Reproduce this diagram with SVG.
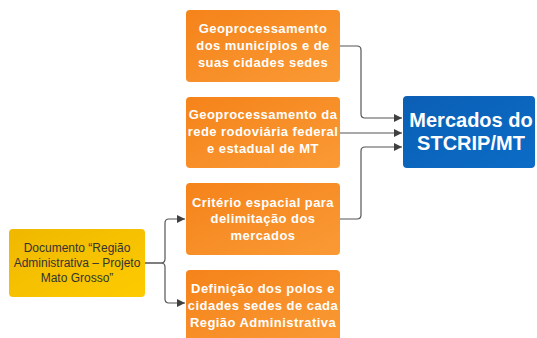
<svg xmlns="http://www.w3.org/2000/svg" width="537" height="338" viewBox="0 0 537 338">
<defs>
<linearGradient id="og" x1="0" y1="0" x2="1" y2="1"><stop offset="0" stop-color="#F5831A"/><stop offset="1" stop-color="#FA9A35"/></linearGradient>
<linearGradient id="bg" x1="0" y1="0" x2="1" y2="1"><stop offset="0" stop-color="#0B5FB5"/><stop offset="1" stop-color="#0B6CC6"/></linearGradient>
<linearGradient id="yg" x1="0" y1="0" x2="1" y2="1"><stop offset="0" stop-color="#EFB800"/><stop offset="1" stop-color="#FDCB00"/></linearGradient>
<marker id="ah" viewBox="0 0 10 10" refX="10" refY="5" markerWidth="8" markerHeight="8" markerUnits="userSpaceOnUse" orient="auto"><path d="M0,0 L10,5 L0,10 z" fill="#404040"/></marker>
<style>
.o{fill:url(#og)}
.ot{font-family:"Liberation Sans",Arial,sans-serif;font-weight:bold;font-size:13px;letter-spacing:0.45px;fill:#fff;text-anchor:middle}
.bt{font-family:"Liberation Sans",Arial,sans-serif;font-weight:bold;font-size:20px;fill:#fff;text-anchor:middle}
.yt{font-family:"Liberation Sans",Arial,sans-serif;font-size:12px;fill:#333;text-anchor:middle}
.c{fill:none;stroke:#555;stroke-width:1.2;marker-end:url(#ah)}
</style>
</defs>
<rect width="537" height="338" fill="#fff"/>
<g id="connectors">
<path class="c" d="M145,263 H161 Q165,263 165,259 V223 Q165,219 169,219 H185"/>
<path class="c" d="M145,263 H161 Q165,263 165,267 V299 Q165,303 169,303 H185"/>
<path class="c" d="M340,46 H357 Q361,46 361,50 V114 Q361,118 365,118 H402"/>
<path class="c" d="M340,133 H402"/>
<path class="c" d="M340,219 H357 Q361,219 361,215 V151 Q361,147 365,147 H402"/>
</g>
<g id="n1"><rect class="o" x="186" y="10" width="154" height="72" rx="4"/>
<text class="ot" x="263" y="33">Geoprocessamento</text><text class="ot" x="263" y="50">dos municípios e de</text><text class="ot" x="263" y="67">suas cidades sedes</text></g>
<g id="n2"><rect class="o" x="186" y="97" width="154" height="71" rx="4"/>
<text class="ot" x="263" y="119">Geoprocessamento da</text><text class="ot" x="263" y="136">rede rodoviária federal</text><text class="ot" x="263" y="153">e estadual de MT</text></g>
<g id="n3"><rect class="o" x="186" y="183" width="154" height="72" rx="4"/>
<text class="ot" x="263" y="207">Critério espacial para</text><text class="ot" x="263" y="223">delimitação dos</text><text class="ot" x="263" y="240">mercados</text></g>
<g id="n4"><rect class="o" x="186" y="270" width="154" height="74" rx="4"/>
<text class="ot" x="263" y="293">Definição dos polos e</text><text class="ot" x="263" y="310">cidades sedes de cada</text><text class="ot" x="263" y="327">Região Administrativa</text></g>
<g id="n5"><rect x="403" y="96" width="132" height="72" rx="4" fill="url(#bg)"/>
<text class="bt" x="471" y="127">Mercados do</text><text class="bt" x="471" y="150">STCRIP/MT</text></g>
<g id="n6"><rect x="9" y="229" width="136" height="68" rx="4" fill="url(#yg)"/>
<text class="yt" x="77" y="252">Documento “Região</text><text class="yt" x="77" y="267">Administrativa – Projeto</text><text class="yt" x="77" y="282">Mato Grosso”</text></g>
</svg>
